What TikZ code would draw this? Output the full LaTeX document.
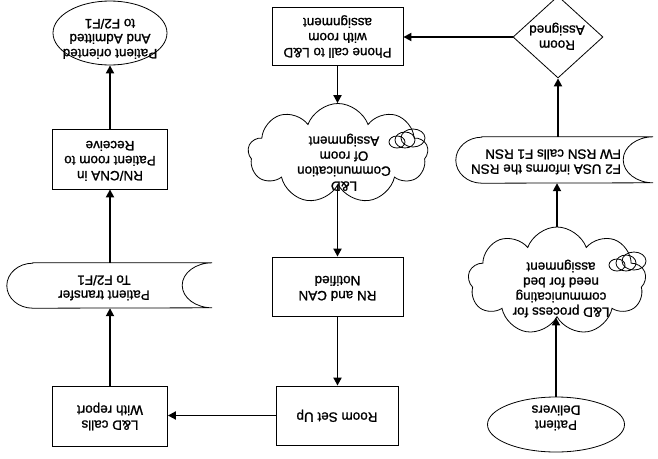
\documentclass[tikz,border=0pt]{standalone}
\usepackage{fontspec}
\setmainfont{Liberation Sans}[RawFeature={embolden=1.2}]
\usetikzlibrary{arrows.meta,shapes.geometric,shapes.symbols}
% text printed upside down, centred or flush to the reading start
\newcommand{\flip}[1]{\rotatebox[origin=c]{180}{\begin{tabular}{@{}c@{}}#1\end{tabular}}}
\newcommand{\flipl}[1]{\rotatebox[origin=c]{180}{\begin{tabular}{@{}l@{}}#1\end{tabular}}}
\begin{document}
\begin{tikzpicture}[x=1pt,y=1pt,
  font=\fontsize{13.5}{15}\selectfont,
  outline/.style={draw=black,line width=0.8pt},
  box/.style={outline,rectangle,inner sep=0pt},
  oval/.style={outline,ellipse,inner sep=0pt},
  puffy/.style={outline,cloud,cloud puffs=9,cloud puff arc=140,cloud ignores aspect,inner sep=0pt},
  gem/.style={outline,diamond,inner sep=0pt},
  txt/.style={inner sep=0pt},
  flow/.style={line width=1.8pt,-{Triangle[length=8pt,width=8pt]}},
]
\fill[white] (0,0) rectangle (658,-458);
\useasboundingbox (0,0) rectangle (658,-458);
\clip (0,0) rectangle (658,-458);

% ---- left column ----
\node[oval,minimum width=114pt,minimum height=64pt] (e1) at (110,-33) {};
\node[txt] (e1t) at (110,-37) {\flip{Patient oriented\\And Admitted\\to F2/F1}};
\node[box,minimum width=115pt,minimum height=60pt] (b1) at (110,-159)
  {\flip{RN/CNA in\\Patient room to\\Receive}};
\node[txt,minimum width=205pt,minimum height=45pt] (t1) at (109.5,-285.5) {};
\draw[outline] ([xshift=26pt]t1.north west) -- (t1.north east)
  arc[start angle=90,end angle=270,x radius=30,y radius=22.5]
  -- ([xshift=26pt]t1.south west)
  arc[start angle=270,end angle=90,x radius=26,y radius=22.5] -- cycle;
\node[txt] (t1t) at (104,-286) {\flip{Patient transfer\\To F2/F1}};
\node[box,minimum width=115pt,minimum height=60pt] (b2) at (110,-416)
  {\flip{L\&D calls\\With report}};

% ---- middle column ----
\node[box,minimum width=131pt,minimum height=58pt] (b3) at (337.5,-36)
  {\flip{Phone call to L\&D\\with room\\assignment}};
\node[puffy,minimum width=180pt,minimum height=100pt] (c1) at (338,-153.5) {};
\node[txt] (c1t) at (344,-162) {\flip{L\&D\\Communication\\Of room\\Assignment}};
\draw[outline] (397,-142) ellipse[x radius=8,y radius=6];
\draw[outline] (405,-140) ellipse[x radius=10,y radius=8];
\draw[outline] (413,-138) ellipse[x radius=12,y radius=9];
\node[box,minimum width=131pt,minimum height=59pt] (b4) at (337.5,-286.5)
  {\flip{RN and CAN\\Notified}};
\node[box,minimum width=122pt,minimum height=59pt] (b5) at (337,-415.5)
  {\flip{Room Set Up}};

% ---- right column ----
\node[gem,minimum width=90pt,minimum height=82pt] (d1) at (558,-37) {};
\node[txt] (d1t) at (557,-36) {\flip{Room\\Assigned}};
\node[txt,minimum width=197pt,minimum height=46pt] (t2) at (554.5,-160) {};
\draw[outline] ([xshift=26pt]t2.north west) -- (t2.north east)
  arc[start angle=90,end angle=270,x radius=30,y radius=23]
  -- ([xshift=26pt]t2.south west)
  arc[start angle=270,end angle=90,x radius=26,y radius=23] -- cycle;
\node[txt] (t2t) at (546,-160) {\flipl{F2 USA informs the RSN\\FW RSN calls F1 RSN}};
\node[puffy,minimum width=178pt,minimum height=108pt] (c2) at (557,-281) {};
\node[txt] (c2t) at (561,-288) {\flip{L\&D process for\\communicating\\need for bed\\assignment}};
\draw[outline] (617,-265) ellipse[x radius=8,y radius=6];
\draw[outline] (626,-263) ellipse[x radius=10,y radius=8];
\draw[outline] (634,-261) ellipse[x radius=12,y radius=9];
\node[oval,minimum width=137pt,minimum height=55pt] (e2) at (556,-424.5) {};
\node[txt] (e2t) at (556,-416) {\flip{Patient\\Delivers}};

% ---- connectors ----
\draw[flow] (e2.north) -- (e2.north |- c2.south);
\draw[flow] (c2.north) -- (c2.north |- t2.south);
\draw[flow] (d1.south |- t2.north) -- (d1.south);
\draw[flow] (d1.west) -- (d1.west -| b3.east);
\draw[flow] (b3.south) -- (b3.south |- c1.north);
\draw[flow] (b4.north |- c1.south) -- (b4.north);
\draw[flow] (b4.south) -- (b4.south |- b5.north);
\draw[flow] (b5.west) -- (b5.west -| b2.east);
\draw[flow] (b2.north) -- (b2.north |- t1.south);
\draw[flow] (b1.south |- t1.north) -- (b1.south);
\draw[flow] (b1.north) -- (b1.north |- e1.south);
\end{tikzpicture}
\end{document}
